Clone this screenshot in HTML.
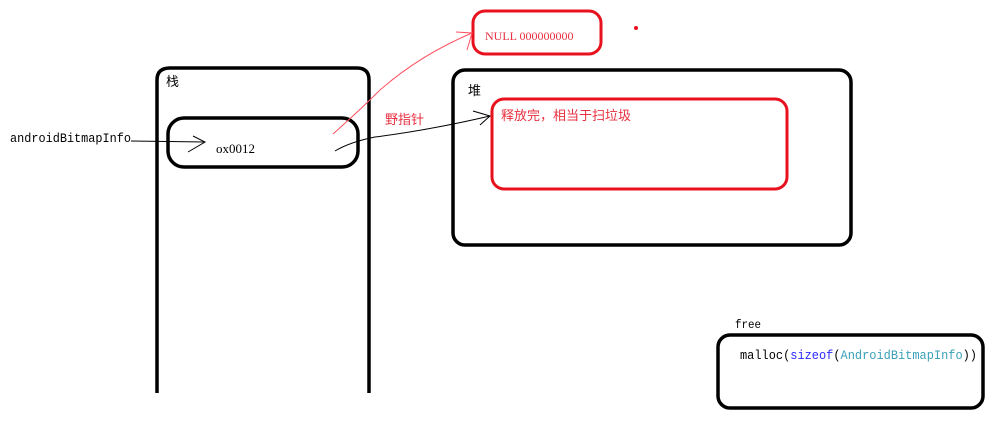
<!DOCTYPE html>
<html><head><meta charset="utf-8"><style>
html,body{margin:0;padding:0;background:#fff;width:1000px;height:429px;overflow:hidden}
svg{display:block}
text{font-family:"Liberation Serif","Noto Serif CJK SC",serif}
.cn{font-family:"Liberation Sans","Noto Sans CJK SC",sans-serif}
.mono{font-family:"Liberation Mono","Noto Sans CJK SC",monospace}
</style></head><body>
<svg width="1000" height="429" viewBox="0 0 1000 429" xmlns="http://www.w3.org/2000/svg">
<path d="M157,393 L157,80 Q157,68 170,68 L357,68 Q369,68 369,80 L369,393" fill="none" stroke="#000" stroke-width="3.5"/>
<text x="166" y="86" font-size="13" class="cn">栈</text>
<rect x="168" y="118" width="190" height="49" rx="16" fill="none" stroke="#000" stroke-width="3.5"/>
<text x="216" y="153" font-size="13">ox0012</text>
<text x="10" y="142" font-size="13" class="mono" textLength="121" lengthAdjust="spacingAndGlyphs">androidBitmapInfo</text>
<path d="M131,141 L205,142" stroke="#000" stroke-width="1" fill="none"/>
<path d="M193,136 L205,142 L188,152" stroke="#000" stroke-width="1" fill="none"/>
<rect x="453" y="70" width="398" height="175" rx="12" fill="none" stroke="#000" stroke-width="3.5"/>
<text x="468" y="95" font-size="13" class="cn">堆</text>
<rect x="492" y="99" width="295" height="90" rx="12" fill="none" stroke="#e8121e" stroke-width="3"/>
<text x="501" y="120" font-size="13" fill="#e83040" class="cn">释放完，相当于扫垃圾</text>
<rect x="473" y="11" width="128" height="43" rx="12" fill="none" stroke="#e8121e" stroke-width="3"/>
<text x="485" y="40" font-size="12" fill="#e83040">NULL 000000000</text>
<circle cx="636" cy="28" r="2" fill="#e8121e"/>
<text x="385" y="124" font-size="13" fill="#e83040" class="cn">野指针</text>
<path d="M333,134 Q360,110 380,90 Q420,55 472,33" stroke="#ff5060" stroke-width="1" fill="none"/>
<path d="M456,32 L472,33 L467,50" stroke="#ff5060" stroke-width="1" fill="none"/>
<path d="M335,151 Q350,142 375,137 Q430,130 490,116" stroke="#000" stroke-width="1" fill="none"/>
<path d="M473,111 L490,116 L480,125" stroke="#000" stroke-width="1" fill="none"/>
<text x="735" y="328" font-size="12" class="mono" textLength="26" lengthAdjust="spacingAndGlyphs">free</text>
<rect x="718" y="335" width="265" height="73" rx="12" fill="none" stroke="#000" stroke-width="3.5"/>
<text x="740" y="359" font-size="13" class="mono" textLength="237" lengthAdjust="spacingAndGlyphs">malloc(<tspan fill="#2a2aff">sizeof</tspan>(<tspan fill="#3aa0b8">AndroidBitmapInfo</tspan>))</text>
</svg>
</body></html>
